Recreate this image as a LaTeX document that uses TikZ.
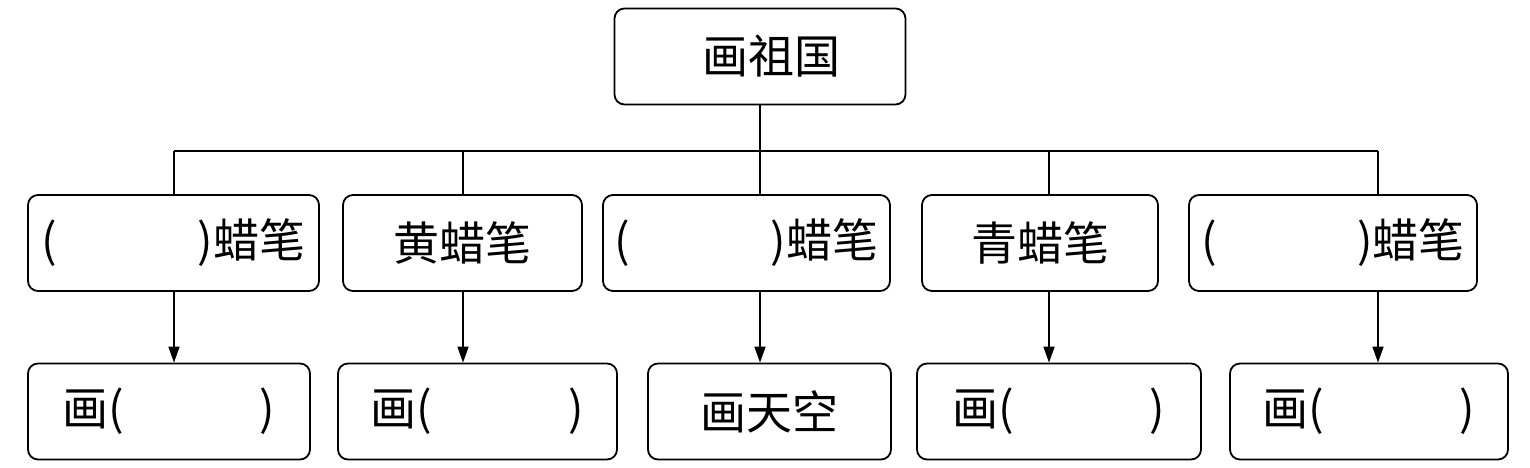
\documentclass[tikz,border=0pt]{standalone}
\usepackage{fontspec}
\setmainfont{Noto Sans CJK SC}
\usetikzlibrary{arrows.meta}
\newcommand{\dn}[2]{\raisebox{-#1pt}{#2}}
\begin{document}
\begin{tikzpicture}[x=1pt,y=-1pt,
  box/.style={draw, line width=1.8pt, rounded corners=10pt, inner sep=0pt,
    minimum height=96pt, font=\fontsize{46pt}{52pt}\selectfont},
  link/.style={line width=1.6pt},
  arr/.style={link, -{Triangle[length=16pt,width=11pt]}}]
\useasboundingbox (0,0) rectangle (1530,467);
\node[box, minimum width=291pt] (top) at (760,56.5) {\hspace{22pt}画祖国};
% row 1
\node[box, minimum width=291pt] (b1) at (173.5,243) {\dn{4}{(\hspace{140pt})蜡笔}};
\node[box, minimum width=239pt] (b2) at (462.5,243) {\dn{4}{黄蜡笔}};
\node[box, minimum width=287pt] (b3) at (746.5,243) {\dn{4}{(\hspace{140pt})蜡笔}};
\node[box, minimum width=236pt] (b4) at (1040,243) {\dn{4}{青蜡笔}};
\node[box, minimum width=288pt] (b5) at (1333,243) {\dn{4}{(\hspace{140pt})蜡笔}};
% row 2
\node[box, minimum width=282pt] (d1) at (169,411.5) {\dn{6}{画(\hspace{136pt})}};
\node[box, minimum width=279pt] (d2) at (477.5,411.5) {\dn{6}{画(\hspace{136pt})}};
\node[box, minimum width=243pt] (d3) at (769.5,411.5) {\dn{6}{画天空}};
\node[box, minimum width=284pt] (d4) at (1059,411.5) {\dn{6}{画(\hspace{136pt})}};
\node[box, minimum width=278pt] (d5) at (1369,411.5) {\dn{6}{画(\hspace{136pt})}};
% connectors
\coordinate (c1) at (174,151);
\coordinate (c2) at (463,151);
\coordinate (c3) at (760,151);
\coordinate (c4) at (1049,151);
\coordinate (c5) at (1378,151);
\draw[link] (top.south) -- (c3);
\draw[link] (c1) -- (c5);
\foreach \i in {1,...,5}{
  \draw[link] (c\i) -- (b\i.north -| c\i);
  \draw[arr] (b\i.south -| c\i) -- (d\i.north -| c\i);
}
\end{tikzpicture}
\end{document}
